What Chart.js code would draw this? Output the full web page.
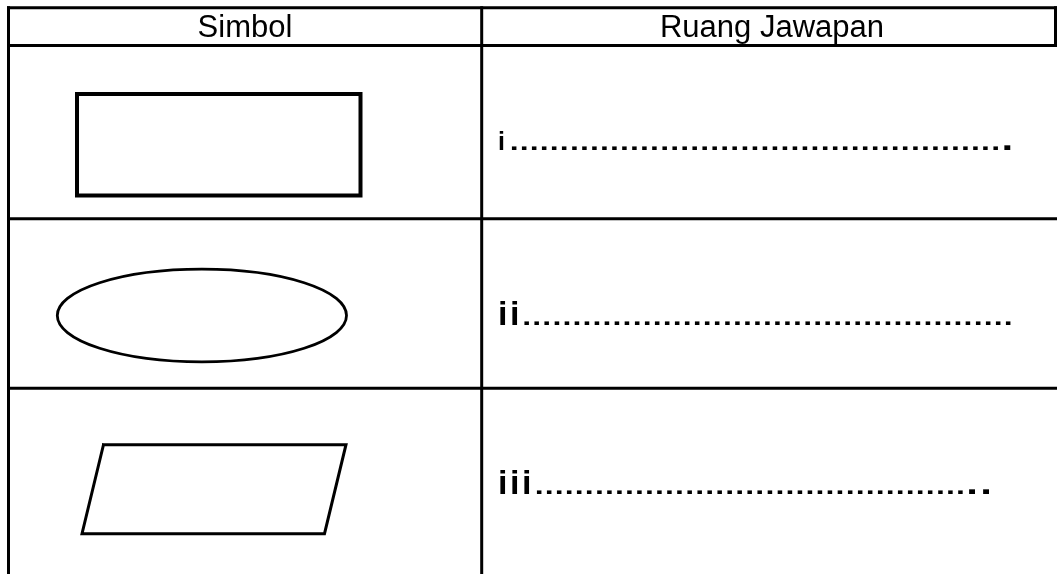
<!DOCTYPE html>
<html lang="ms">
<head>
  <meta charset="UTF-8" />
  <title>Simbol carta alir</title>
  <script src="https://cdn.jsdelivr.net/npm/chart.js"></script>
  <style>
    html, body {
      margin: 0;
      padding: 0;
      background: #fff;
    }
    .chart-container {
      position: relative;
      width: 1057px;
      height: 574px;
    }
  </style>
</head>
<body>

<div class="chart-container">
  <canvas id="tableChart"></canvas>
</div>

<script>
  // Table text
  const headers = ['Simbol', 'Ruang Jawapan'];
  const answerLabels = ['i', 'ii', 'iii'];
  const smallDots = [49, 49, 43];
  const bigDots = [1, 0, 2];

  // Layout (page pixels, the axes run 0..1057 and 0..574)
  const tableTop = 7.8;
  const headerBottom = 45.5;
  const rowLines = [218.8, 388.3];
  const leftEdge = 8.5;
  const colDivider = 481.7;
  const rightEdge = 1055.5;
  const headerCenters = [245, 772];
  const headerBaseline = 37;
  const labelSizes = [25, 34, 34];
  const labelBaselines = [150, 325, 494];
  const dotStarts = [512, 524.6, 537];

  const rectShape = [
    { x: 77, y: 94 }, { x: 360.5, y: 94 }, { x: 360.5, y: 195.5 }, { x: 77, y: 195.5 }, { x: 77, y: 94 }
  ];
  const paraShape = [
    { x: 103.5, y: 444.7 }, { x: 346, y: 444.7 }, { x: 324.5, y: 533.7 }, { x: 82, y: 533.7 }, { x: 103.5, y: 444.7 }
  ];
  const ellipseShape = { cx: 201.9, cy: 315.5, rx: 144.6, ry: 46.3 };

  function seg(x1, y1, x2, y2) {
    return [{ x: x1, y: y1 }, { x: x2, y: y2 }];
  }

  function lineSet(data, width) {
    return {
      data: data,
      showLine: true,
      borderColor: '#000',
      borderWidth: width,
      pointRadius: 0,
      fill: false,
      clip: false,
      borderJoinStyle: 'miter',
      borderCapStyle: 'square'
    };
  }

  const gridLines = [
    seg(leftEdge, tableTop, rightEdge, tableTop),
    seg(leftEdge, headerBottom, rightEdge, headerBottom),
    seg(leftEdge, rowLines[0], 1057, rowLines[0]),
    seg(leftEdge, rowLines[1], 1057, rowLines[1]),
    seg(leftEdge, tableTop, leftEdge, 574),
    seg(colDivider, tableTop, colDivider, 574),
    seg(rightEdge, tableTop, rightEdge, headerBottom)
  ];

  const datasets = gridLines.map(d => lineSet(d, 3));
  datasets.push(lineSet(rectShape, 4));
  datasets.push(lineSet(paraShape, 3));

  // dots are a little flatter than the font's period
  function flatDot(ctx, x, y) {
    ctx.save();
    ctx.translate(x, y);
    ctx.scale(1, 0.75);
    ctx.fillText('.', 0, 0);
    ctx.restore();
  }

  // ellipse and texts drawn on the same scales
  const tablePlugin = {
    id: 'tableText',
    afterDatasetsDraw(chart) {
      const ctx = chart.ctx;
      const xs = chart.scales.x;
      const ys = chart.scales.y;
      ctx.save();

      // ellipse (terminal symbol)
      const cx = xs.getPixelForValue(ellipseShape.cx);
      const cy = ys.getPixelForValue(ellipseShape.cy);
      const rx = Math.abs(xs.getPixelForValue(ellipseShape.cx + ellipseShape.rx) - cx);
      const ry = Math.abs(ys.getPixelForValue(ellipseShape.cy + ellipseShape.ry) - cy);
      ctx.beginPath();
      ctx.ellipse(cx, cy, rx, ry, 0, 0, Math.PI * 2);
      ctx.lineWidth = 2.8;
      ctx.strokeStyle = '#000';
      ctx.stroke();

      // header
      ctx.fillStyle = '#000';
      ctx.textBaseline = 'alphabetic';
      ctx.textAlign = 'center';
      ctx.font = '31px "Liberation Sans", Arial, sans-serif';
      headers.forEach((h, i) => {
        ctx.fillText(h, xs.getPixelForValue(headerCenters[i]), ys.getPixelForValue(headerBaseline));
      });

      // answer rows
      ctx.textAlign = 'left';
      answerLabels.forEach((lab, r) => {
        const base = ys.getPixelForValue(labelBaselines[r]);
        ctx.font = 'bold ' + labelSizes[r] + 'px "Liberation Sans", Arial, sans-serif';
        for (let k = 0; k < lab.length; k++) {
          ctx.fillText(lab[k], xs.getPixelForValue(498 + k * 12), base);
        }
        ctx.font = 'bold 32px "Liberation Sans", Arial, sans-serif';
        const x0 = dotStarts[r] - 2.3;
        for (let k = 0; k < smallDots[r]; k++) {
          flatDot(ctx, xs.getPixelForValue(x0 + k * 10.03), base);
        }
        ctx.font = 'bold 42px "Liberation Sans", Arial, sans-serif';
        const b0 = dotStarts[r] + (smallDots[r] - 1) * 10.03 + 11 - 3;
        for (let k = 0; k < bigDots[r]; k++) {
          flatDot(ctx, xs.getPixelForValue(b0 + k * 14), base);
        }
      });

      ctx.restore();
    }
  };

  new Chart(document.getElementById('tableChart'), {
    type: 'scatter',
    data: { datasets: datasets },
    options: {
      responsive: true,
      maintainAspectRatio: false,
      animation: false,
      layout: { padding: 0 },
      plugins: { legend: { display: false }, tooltip: { enabled: false } },
      scales: {
        x: { type: 'linear', min: 0, max: 1057, display: false },
        y: { type: 'linear', min: 0, max: 574, reverse: true, display: false }
      }
    },
    plugins: [tablePlugin]
  });
</script>
</body>
</html>
